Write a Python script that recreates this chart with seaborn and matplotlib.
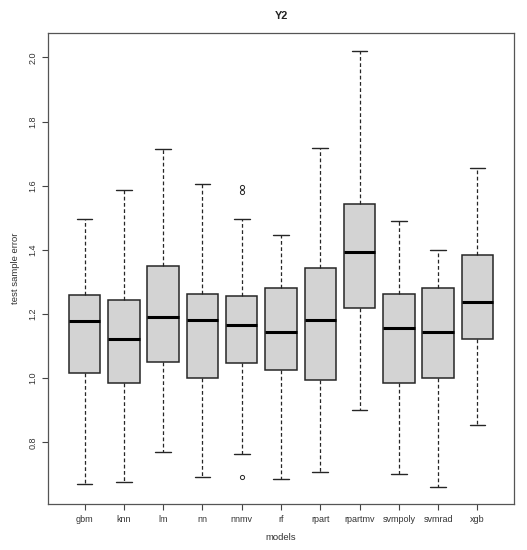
import numpy as np
import pandas as pd
import matplotlib
matplotlib.use('Agg')
import matplotlib.pyplot as plt
import seaborn as sns

# box summaries (R style boxplot)
models = ['gbm', 'knn', 'lm', 'nn', 'nnmv', 'rf', 'rpart', 'rpartmv', 'svmpoly', 'svmrad', 'xgb']
whisker_low = [0.671, 0.678, 0.771, 0.691, 0.764, 0.686, 0.707, 0.900, 0.701, 0.662, 0.853]
q1 = [1.016, 0.985, 1.049, 1.002, 1.046, 1.027, 0.994, 1.218, 0.986, 1.001, 1.122]
median = [1.179, 1.122, 1.191, 1.181, 1.166, 1.145, 1.181, 1.393, 1.155, 1.143, 1.236]
q3 = [1.259, 1.244, 1.349, 1.261, 1.257, 1.280, 1.343, 1.544, 1.261, 1.282, 1.384]
whisker_high = [1.497, 1.586, 1.714, 1.605, 1.497, 1.446, 1.718, 2.021, 1.491, 1.400, 1.655]
outlier_models = ['nnmv', 'nnmv', 'nnmv']
outlier_values = [1.597, 1.579, 0.693]
y_ticks = [0.8, 1.0, 1.2, 1.4, 1.6, 1.8, 2.0]

# five points per model give exactly these quartiles
rows = []
for i, m in enumerate(models):
    for v in (whisker_low[i], q1[i], median[i], q3[i], whisker_high[i]):
        rows.append({'models': m, 'error': v})
df = pd.DataFrame(rows)

sns.set_style('white')
plt.rcParams['font.family'] = ['Liberation Sans', 'DejaVu Sans']

fig = plt.figure(figsize=(5.27, 5.5), dpi=100)
ax = fig.add_axes([47.7 / 527, 1 - 504.3 / 550, 466.6 / 527, 471 / 550])

sns.boxplot(data=df, x='models', y='error', order=models, color='#d3d3d3',
            saturation=1, linecolor='#262626', linewidth=1.1, width=0.8,
            whis=np.inf,
            whiskerprops=dict(linestyle=(0, (3, 2)), linewidth=0.9),
            capprops=dict(linewidth=1.0),
            medianprops=dict(color='black', linewidth=2.2),
            ax=ax)
sns.stripplot(x=outlier_models, y=outlier_values, order=models, jitter=False,
              color='white', edgecolor='#262626', linewidth=0.7, size=3.0, ax=ax)

ax.set_xlim(-0.94, 10.94)
ax.set_ylim(0.607, 2.075)
ax.set_yticks(y_ticks)
ax.set_yticklabels([f'{t:.1f}' for t in y_ticks])
plt.setp(ax.get_yticklabels(), rotation=90, va='center')

ax.tick_params(axis='both', direction='out', length=4, width=0.8, color='#444444',
               labelsize=6.5, labelcolor='#333333', pad=3.5,
               bottom=True, left=True)
for s in ax.spines.values():
    s.set_color('#555555')
    s.set_linewidth(0.9)

ax.set_xlabel('models', fontsize=6.8, color='#333333')
ax.set_ylabel('test sample error', fontsize=6.8, color='#333333')
ax.xaxis.set_label_coords(0.5, (504.3 - 537.7) / 471)
ax.xaxis.label.set_va('center')
ax.yaxis.set_label_coords((15 - 47.7) / 466.6, 0.5)
ax.yaxis.label.set_va('center')
ax.set_title('Y2', fontsize=7.8, fontweight='bold', color='#222222',
             y=(504.3 - 15.6) / 471, va='center', pad=0)

fig.savefig('out.png', dpi=100)
